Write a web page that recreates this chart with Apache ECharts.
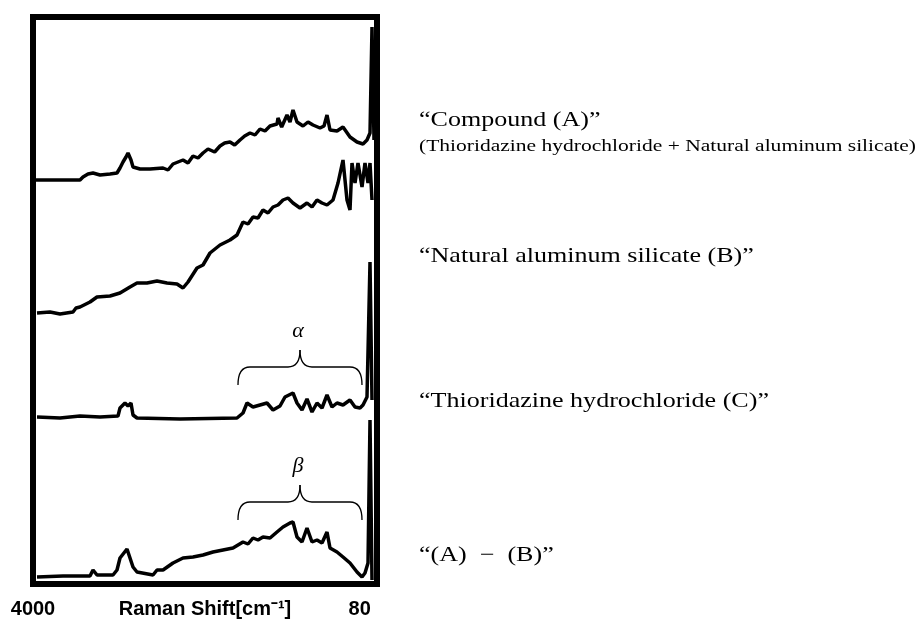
<!DOCTYPE html>
<html>
<head>
<meta charset="utf-8">
<script src="https://cdn.jsdelivr.net/npm/echarts@6/dist/echarts.min.js"></script>
<style>
  html, body { margin: 0; padding: 0; background: #fff; }
  #chart { width: 919px; height: 629px; }
</style>
</head>
<body>
<div id="chart"></div>
<script>
// Raman shift (cm-1) vs intensity (arb. units, traces already stacked)
var compoundA = [
  [3964, 404], [3436, 404], [3400, 407], [3340, 410], [3280, 411], [3196, 409],
  [3076, 410], [2992, 411], [2956, 416], [2920, 422], [2884, 427], [2860, 431],
  [2824, 424], [2800, 417], [2716, 415], [2596, 415], [2440, 416], [2380, 414],
  [2320, 420], [2200, 424], [2140, 421], [2080, 428], [2020, 426], [1960, 431],
  [1900, 435], [1820, 432], [1756, 438], [1700, 441], [1636, 442], [1580, 439],
  [1516, 444], [1460, 448], [1396, 451], [1336, 449], [1276, 455], [1216, 453],
  [1156, 458], [1072, 460], [1060, 466], [1016, 457], [952, 469], [916, 462],
  [880, 474], [832, 462], [760, 458], [700, 462], [640, 459], [556, 456],
  [508, 458], [472, 469], [436, 454], [352, 453], [280, 457], [196, 447],
  [112, 442], [40, 440], [-8, 444], [-44, 451], [-68, 557], [-92, 444]
];
var silicateB = [
  [3952, 271], [3796, 272], [3676, 270], [3520, 272], [3484, 276], [3436, 277],
  [3316, 282], [3232, 287], [3076, 288], [2956, 291], [2836, 297], [2752, 301],
  [2632, 301], [2512, 303], [2392, 301], [2272, 300], [2200, 296], [2140, 302],
  [2032, 316], [1960, 319], [1876, 331], [1756, 339], [1636, 344], [1552, 349],
  [1480, 362], [1420, 360], [1360, 367], [1300, 366], [1240, 374], [1180, 371],
  [1120, 377], [1060, 379], [1000, 384], [940, 386], [880, 381], [796, 376],
  [712, 381], [652, 377], [592, 384], [532, 381], [472, 379], [400, 384],
  [340, 401], [280, 424], [232, 384], [196, 374], [172, 421], [136, 401],
  [100, 421], [52, 397], [16, 421], [-20, 401], [-44, 421], [-68, 384]
];
var thioridazineC = [
  [3952, 167], [3676, 166], [3436, 168], [3196, 167], [2980, 168], [2956, 176],
  [2896, 181], [2860, 178], [2824, 181], [2800, 169], [2752, 166], [2236, 165],
  [1552, 166], [1480, 171], [1432, 181], [1360, 177], [1276, 179], [1192, 181],
  [1120, 174], [1036, 178], [976, 187], [880, 191], [832, 181], [772, 174],
  [712, 185], [652, 172], [592, 181], [532, 176], [472, 189], [412, 177],
  [352, 181], [280, 179], [196, 184], [136, 177], [76, 176], [40, 179],
  [-8, 187], [-44, 322], [-68, 184]
];
var differenceAB = [
  [3952, 7], [3640, 8], [3316, 8], [3280, 14], [3232, 9], [3040, 9],
  [2992, 14], [2956, 26], [2872, 35], [2836, 26], [2800, 17], [2752, 12],
  [2560, 9], [2512, 14], [2440, 14], [2320, 21], [2200, 26], [2080, 27],
  [1960, 29], [1840, 32], [1720, 34], [1600, 36], [1480, 42], [1420, 40],
  [1360, 46], [1300, 44], [1240, 47], [1156, 46], [1072, 52], [1000, 57],
  [916, 61], [880, 62], [832, 47], [772, 42], [712, 56], [652, 42],
  [592, 44], [532, 41], [472, 52], [436, 36], [352, 32], [280, 27],
  [196, 21], [112, 12], [52, 7], [16, 11], [-20, 21], [-44, 164], [-68, 4]
];

var traceNames = [
  '\u201cCompound (A)\u201d',
  '\u201cNatural aluminum silicate (B)\u201d',
  '\u201cThioridazine hydrochloride (C)\u201d',
  '\u201c(A)  \u2212  (B)\u201d'
];
var compoundNote = '(Thioridazine hydrochloride + Natural aluminum silicate)';
var tickValues = [4000, 80];
var axisTitle = 'Raman Shift[cm\u207b\u00b9]';

// brackets over the regions alpha / beta
var braces = [
  { label: '\u03b1', from: 1540, to: 52, mid: 796, end: 199, bar: 217, tip: 234 },
  { label: '\u03b2', from: 1540, to: 52, mid: 796, end: 64, bar: 82, tip: 99 }
];

var chart = echarts.init(document.getElementById('chart'));

function renderBrace(params, api) {
  var b = braces[params.dataIndex];
  var l = api.coord([b.from, b.end]);
  var r = api.coord([b.to, b.end]);
  var h = api.coord([b.mid, b.bar])[1];
  var t = api.coord([b.mid, b.tip]);
  var xl = l[0], xr = r[0], yb = l[1], xc = t[0], yt = t[1];
  var k = 12;
  var st = { stroke: '#000', lineWidth: 1.3, fill: null };
  return {
    type: 'group',
    children: [
      { type: 'bezierCurve', shape: { x1: xl, y1: yb, cpx1: xl, cpy1: h, x2: xl + k, y2: h }, style: st },
      { type: 'line', shape: { x1: xl + k, y1: h, x2: xc - k, y2: h }, style: st },
      { type: 'bezierCurve', shape: { x1: xc - k, y1: h, cpx1: xc, cpy1: h, x2: xc, y2: yt }, style: st },
      { type: 'bezierCurve', shape: { x1: xc, y1: yt, cpx1: xc, cpy1: h, x2: xc + k, y2: h }, style: st },
      { type: 'line', shape: { x1: xc + k, y1: h, x2: xr - k, y2: h }, style: st },
      { type: 'bezierCurve', shape: { x1: xr - k, y1: h, cpx1: xr, cpy1: h, x2: xr, y2: yb }, style: st },
      {
        type: 'text', x: xc - 2, y: yt - 19,
        style: {
          text: b.label, fill: '#000', align: 'center', verticalAlign: 'middle',
          font: 'italic 22px "Liberation Serif", serif'
        }
      }
    ]
  };
}

function traceSeries(name, data) {
  return {
    name: name,
    type: 'line',
    data: data,
    showSymbol: false,
    lineStyle: { color: '#000', width: 3.5 },
    silent: true
  };
}

function sideLabel(text, y, size, sx) {
  return {
    type: 'text', x: 419, y: y, scaleX: sx,
    style: {
      text: text, fill: '#000', verticalAlign: 'middle',
      font: size + 'px "Liberation Serif", "Times New Roman", serif'
    }
  };
}

chart.setOption({
  animation: false,
  backgroundColor: '#fff',
  grid: {
    left: 33, right: 542, top: 17, bottom: 45,
    outerBoundsMode: 'none',
    containLabel: false,
    show: true, borderColor: '#000', borderWidth: 6
  },
  xAxis: {
    type: 'value',
    inverse: true,
    min: -128,
    max: 4000,
    axisLine: { show: false },
    axisTick: { show: false },
    splitLine: { show: false },
    axisLabel: {
      customValues: tickValues,
      formatter: function (v) { return String(v); },
      margin: 15,
      color: '#000',
      fontSize: 20,
      fontWeight: 'bold',
      fontFamily: '"Liberation Sans", Arial, sans-serif'
    },
    name: axisTitle,
    nameLocation: 'middle',
    nameGap: 15,
    nameMoveOverlap: false,
    nameTextStyle: {
      color: '#000',
      fontSize: 20,
      fontWeight: 'bold',
      fontFamily: '"Liberation Sans", Arial, sans-serif',
      verticalAlign: 'top'
    }
  },
  yAxis: {
    type: 'value',
    min: 0,
    max: 567,
    show: false
  },
  series: [
    traceSeries(traceNames[0], compoundA),
    traceSeries(traceNames[1], silicateB),
    traceSeries(traceNames[2], thioridazineC),
    traceSeries(traceNames[3], differenceAB),
    {
      type: 'custom',
      renderItem: renderBrace,
      data: braces.map(function (b) { return [b.mid, b.tip]; }),
      silent: true
    }
  ],
  graphic: [
    sideLabel(traceNames[0], 120, 21, 1.24),
    sideLabel(compoundNote, 146, 17.5, 1.23),
    sideLabel(traceNames[1], 256, 21, 1.24),
    sideLabel(traceNames[2], 401, 21, 1.24),
    sideLabel(traceNames[3], 555, 21, 1.24)
  ]
});
</script>
</body>
</html>
